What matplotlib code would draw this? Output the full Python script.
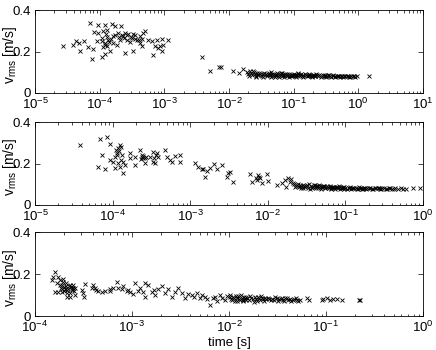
import matplotlib

matplotlib.use("Agg")
import matplotlib.pyplot as plt
from matplotlib.ticker import LogLocator, NullFormatter

# --- panel 1 ---------------------------------------------------------------
t1 = [
    2.7e-5, 7.1e-5, 9.5e-5, 1.21e-4, 1.53e-4, 1.73e-4, 2.14e-4, 8.3e-5, 9.5e-5, 1.14e-4,
    1.28e-4, 4.3e-5, 4.8e-5, 5.8e-5, 5.0e-5, 6.6e-5, 8.0e-5, 7.5e-5, 1.07e-4, 1.21e-4,
    1.45e-4, 9.0e-5, 1.07e-4, 1.21e-4, 1.36e-4, 1.14e-4, 1.28e-4, 1.63e-4, 1.73e-4, 1.94e-4,
    2.19e-4, 2.47e-4, 2.77e-4, 2.06e-4, 2.62e-4, 1.83e-4, 2.47e-4, 3.31e-4, 3.13e-4, 3.52e-4,
    4.2e-4, 4.73e-4, 5.0e-4, 4.2e-4, 4.47e-4, 5.65e-4, 6.4e-4, 7.6e-4, 9.1e-4, 1.15e-3,
    7.2e-4, 8.1e-4, 9.1e-4, 9.6e-4, 6.7e-4, 3.74e-4, 8.6e-4, 2.3e-4, 2.6e-4, 3.0e-4,
    1.3e-4, 1.4e-4, 1.5e-4, 3.5e-4, 4.0e-4, 2.9e-4, 1.2e-4, 2.0e-4, 4.5e-4, 1.1e-4,
    1.25e-4, 2.4e-4, 3.3e-4, 1.6e-4, 3.8e-5,
    3.8e-3, 5.1e-3, 7.0e-3, 7.6e-3, 0.0115, 0.0143, 0.0165,
    0.019, 0.020, 0.021, 0.022, 0.023, 0.024, 0.025, 0.026, 0.027, 0.028,
    0.030, 0.032, 0.033, 0.035, 0.038, 0.040, 0.043, 0.045, 0.047, 0.049,
    0.052, 0.055, 0.058, 0.061, 0.064, 0.067, 0.070, 0.074, 0.078, 0.082,
    0.086, 0.090, 0.095, 0.100, 0.105, 0.11, 0.115, 0.12, 0.13, 0.135,
    0.14, 0.15, 0.16, 0.17, 0.18, 0.19, 0.20, 0.21, 0.22, 0.24,
    0.25, 0.27, 0.29, 0.31, 0.33, 0.35, 0.38, 0.41, 0.44, 0.48,
    0.52, 0.56, 0.61, 0.66, 0.72, 0.78, 0.86, 0.95, 1.45,
    0.0205, 0.0235, 0.0265, 0.029, 0.031, 0.034, 0.037, 0.039, 0.042, 0.044,
    0.046, 0.048, 0.051, 0.054, 0.057, 0.060, 0.063, 0.066, 0.069, 0.072,
    0.076, 0.080, 0.084, 0.088, 0.093, 0.098, 0.103, 0.108, 0.113, 0.118,
    0.125, 0.14, 0.155, 0.165, 0.175, 0.185, 0.195, 0.205, 0.215, 0.23,
    0.26, 0.28, 0.30, 0.32, 0.34, 0.37, 0.40, 0.43, 0.46, 0.50,
    0.54, 0.58, 0.63, 0.69, 0.75, 0.82, 0.90,
]
v1 = [
    0.225, 0.337, 0.329, 0.326, 0.333, 0.321, 0.321, 0.294, 0.289, 0.297,
    0.305, 0.252, 0.241, 0.252, 0.201, 0.220, 0.212, 0.165, 0.172, 0.188,
    0.201, 0.249, 0.265, 0.241, 0.257, 0.220, 0.225, 0.241, 0.281, 0.289,
    0.281, 0.289, 0.284, 0.257, 0.257, 0.233, 0.193, 0.201, 0.265, 0.281,
    0.273, 0.289, 0.297, 0.241, 0.225, 0.257, 0.249, 0.257, 0.262, 0.257,
    0.225, 0.217, 0.201, 0.233, 0.185, 0.257, 0.226, 0.275, 0.280, 0.270,
    0.270, 0.245, 0.260, 0.260, 0.255, 0.245, 0.230, 0.270, 0.262, 0.250,
    0.285, 0.265, 0.285, 0.275, 0.230,
    0.175, 0.107, 0.124, 0.124, 0.107, 0.098, 0.116,
    0.100, 0.090, 0.108, 0.095, 0.085, 0.100, 0.092, 0.083, 0.097, 0.088,
    0.093, 0.080, 0.090, 0.098, 0.085, 0.093, 0.088, 0.100, 0.082, 0.092,
    0.086, 0.095, 0.083, 0.090, 0.087, 0.094, 0.085, 0.091, 0.082, 0.089,
    0.093, 0.084, 0.088, 0.092, 0.083, 0.088, 0.094, 0.085, 0.090, 0.082,
    0.088, 0.092, 0.084, 0.089, 0.086, 0.081, 0.088, 0.084, 0.090, 0.082,
    0.087, 0.084, 0.080, 0.086, 0.082, 0.085, 0.079, 0.084, 0.081, 0.083,
    0.079, 0.082, 0.080, 0.083, 0.079, 0.081, 0.080, 0.082, 0.080,
    0.082, 0.105, 0.078, 0.098, 0.086, 0.076, 0.092, 0.081, 0.097, 0.078,
    0.090, 0.085, 0.077, 0.089, 0.092, 0.079, 0.094, 0.081, 0.088, 0.078,
    0.086, 0.092, 0.079, 0.087, 0.081, 0.086, 0.089, 0.079, 0.085, 0.090,
    0.081, 0.078, 0.087, 0.080, 0.091, 0.084, 0.079, 0.086, 0.081, 0.085,
    0.079, 0.087, 0.083, 0.078, 0.086, 0.082, 0.085, 0.077, 0.083, 0.080,
    0.084, 0.078, 0.081, 0.083, 0.078, 0.080, 0.079,
]

# --- panel 2 ---------------------------------------------------------------
t2 = [
    3.8e-5, 6.9e-5, 8.4e-5, 9.3e-5, 1.25e-4, 1.19e-4, 7.2e-5, 1.13e-4, 1.31e-4, 1.07e-4,
    9.3e-5, 1.02e-4, 1.19e-4, 1.37e-4, 1.45e-4, 1.25e-4, 6.5e-5, 8.0e-5, 1.07e-4, 1.37e-4,
    1.68e-4, 1.94e-4, 1.94e-4, 1.68e-4, 2.25e-4, 2.37e-4, 2.49e-4, 2.62e-4, 2.4e-4, 2.5e-4,
    2.6e-4, 2.3e-4, 2.7e-4, 3.03e-4, 3.35e-4, 3.7e-4, 3.35e-4, 3.52e-4, 3.88e-4, 4.73e-4,
    4.98e-4, 5.5e-4, 5.8e-4, 6.4e-4, 7.4e-4, 7.4e-4, 1.15e-4, 1.2e-4, 1.28e-4, 1.1e-4,
    1.3e-4, 3.6e-4, 3.4e-4,
    1.15e-3, 1.27e-3, 1.41e-3, 1.48e-3, 1.63e-3, 2.0e-3, 1.8e-3, 2.55e-3, 1.55e-3, 2.2e-3,
    3.1e-3, 3.26e-3, 2.95e-3, 3.6e-3, 5.9e-3, 7.5e-3, 7.9e-3, 6.2e-3, 7.2e-3, 8.3e-3,
    9.7e-3, 0.0102, 0.0077, 0.0070, 0.013, 0.0151, 0.0167, 0.0184, 0.0193, 0.0174,
    0.020, 0.021,
    0.022, 0.023, 0.024, 0.025, 0.026, 0.027, 0.028, 0.029, 0.030, 0.032,
    0.033, 0.034, 0.036, 0.037, 0.039, 0.041, 0.043, 0.045, 0.047, 0.049,
    0.051, 0.054, 0.057, 0.060, 0.063, 0.066, 0.069, 0.072, 0.076, 0.080,
    0.084, 0.088, 0.092, 0.097, 0.10, 0.11, 0.115, 0.12, 0.13, 0.14,
    0.15, 0.16, 0.17, 0.18, 0.19, 0.20, 0.22, 0.24, 0.26, 0.28,
    0.30, 0.33, 0.36, 0.40, 0.44, 0.56, 0.61, 0.75, 0.92,
    0.0225, 0.0245, 0.0265, 0.0285, 0.031, 0.0345, 0.038, 0.040, 0.042, 0.044,
    0.046, 0.048, 0.050, 0.0525, 0.055, 0.0585, 0.0615, 0.0645, 0.0675, 0.0705,
    0.074, 0.078, 0.082, 0.086, 0.090, 0.095, 0.105, 0.112, 0.118, 0.125,
    0.135, 0.145, 0.155, 0.165, 0.175, 0.185, 0.21, 0.23, 0.25, 0.27,
    0.29, 0.31, 0.345, 0.38, 0.42, 0.48, 0.52,
]
v2 = [
    0.290, 0.317, 0.329, 0.294, 0.289, 0.273, 0.241, 0.249, 0.241, 0.233,
    0.217, 0.209, 0.201, 0.209, 0.193, 0.185, 0.185, 0.172, 0.177, 0.156,
    0.249, 0.233, 0.193, 0.225, 0.265, 0.241, 0.225, 0.201, 0.232, 0.236,
    0.228, 0.222, 0.232, 0.233, 0.257, 0.249, 0.209, 0.201, 0.233, 0.265,
    0.233, 0.217, 0.209, 0.236, 0.241, 0.209, 0.240, 0.260, 0.280, 0.265,
    0.215, 0.240, 0.225,
    0.201, 0.185, 0.172, 0.172, 0.165, 0.198, 0.177, 0.193, 0.136, 0.173,
    0.153, 0.160, 0.136, 0.112, 0.149, 0.145, 0.129, 0.112, 0.120, 0.104,
    0.149, 0.117, 0.135, 0.128, 0.096, 0.104, 0.120, 0.129, 0.112, 0.088,
    0.125, 0.105,
    0.100, 0.090, 0.095, 0.085, 0.098, 0.090, 0.080, 0.093, 0.087, 0.095,
    0.083, 0.100, 0.090, 0.082, 0.095, 0.087, 0.092, 0.080, 0.090, 0.085,
    0.093, 0.082, 0.088, 0.085, 0.091, 0.080, 0.087, 0.083, 0.089, 0.080,
    0.086, 0.082, 0.088, 0.079, 0.084, 0.081, 0.087, 0.080, 0.084, 0.079,
    0.085, 0.081, 0.078, 0.084, 0.080, 0.082, 0.078, 0.083, 0.080, 0.077,
    0.082, 0.079, 0.081, 0.078, 0.080, 0.079, 0.079, 0.080, 0.080,
    0.088, 0.102, 0.082, 0.097, 0.092, 0.078, 0.088, 0.098, 0.080, 0.090,
    0.094, 0.078, 0.087, 0.090, 0.080, 0.093, 0.084, 0.077, 0.089, 0.086,
    0.079, 0.085, 0.090, 0.077, 0.083, 0.086, 0.078, 0.084, 0.076, 0.083,
    0.081, 0.077, 0.084, 0.079, 0.082, 0.076, 0.081, 0.078, 0.084, 0.080,
    0.078, 0.081, 0.077, 0.080, 0.079, 0.078, 0.080,
]

# --- panel 3 ---------------------------------------------------------------
t3 = [
    1.61e-4, 1.55e-4, 1.74e-4, 1.81e-4, 1.96e-4, 1.67e-4, 1.49e-4, 1.9e-4, 2.0e-4, 2.1e-4,
    2.2e-4, 2.3e-4, 2.4e-4, 2.0e-4, 2.15e-4, 2.35e-4, 1.85e-4, 2.5e-4, 1.61e-4, 1.74e-4,
    1.88e-4, 2.12e-4, 2.3e-4, 2.58e-4, 2.39e-4, 2.48e-4, 3.03e-4, 3.28e-4, 3.22e-4, 3.15e-4,
    3.99e-4, 3.84e-4, 4.15e-4, 4.5e-4, 4.87e-4, 5.27e-4, 5.93e-4, 6.42e-4, 6.95e-4, 7.2e-4,
    8.1e-4, 8.8e-4, 9.5e-4, 1.03e-3, 1.07e-3, 1.21e-3, 1.36e-3, 1.47e-3, 1.36e-3, 1.6e-3,
    1.73e-3, 1.87e-3, 2.02e-3, 2.19e-3, 2.37e-3, 2.57e-3, 3.0e-3, 3.25e-3, 3.52e-3, 4.12e-3,
    4.65e-3, 5.0e-3, 5.66e-3, 6.4e-3, 7.2e-3, 8.1e-3, 9.1e-3, 0.0102,
    4.3e-4, 6.0e-4, 7.8e-4, 9.0e-4, 1.15e-3, 1.3e-3, 1.7e-3, 2.8e-3, 3.8e-3, 4.4e-3,
    5.3e-3, 6.0e-3, 6.8e-3, 7.6e-3, 8.5e-3, 9.5e-3,
    0.0105, 0.011, 0.0115, 0.012, 0.0125, 0.013, 0.0135, 0.014, 0.0145, 0.015,
    0.016, 0.017, 0.018, 0.019, 0.020, 0.021, 0.022, 0.023, 0.024, 0.025,
    0.027, 0.028, 0.030, 0.032, 0.034, 0.036, 0.038, 0.041, 0.044, 0.047,
    0.050, 0.054, 0.063, 0.066, 0.090, 0.093, 0.102, 0.11, 0.119, 0.130,
    0.145, 0.221, 0.224,
    0.0102, 0.0108, 0.0112, 0.0118, 0.0122, 0.0128, 0.0132, 0.0138, 0.0142, 0.0148,
    0.0155, 0.0165, 0.0175, 0.0185, 0.0195, 0.0205, 0.0215, 0.0225, 0.0235, 0.026,
    0.029, 0.031, 0.033, 0.035, 0.037, 0.040, 0.043, 0.046, 0.049, 0.052,
    2.05e-4, 2.25e-4, 1.95e-4, 2.45e-4, 2.15e-4, 1.8e-4, 2.3e-4, 2.6e-4, 2.1e-4, 1.9e-4,
]
v3 = [
    0.208, 0.187, 0.187, 0.171, 0.176, 0.156, 0.171, 0.150, 0.140, 0.145,
    0.130, 0.150, 0.125, 0.118, 0.110, 0.138, 0.135, 0.118, 0.113, 0.113,
    0.113, 0.092, 0.089, 0.100, 0.132, 0.148, 0.124, 0.151, 0.092, 0.108,
    0.148, 0.132, 0.132, 0.119, 0.113, 0.119, 0.129, 0.135, 0.163, 0.132,
    0.144, 0.119, 0.113, 0.103, 0.156, 0.132, 0.156, 0.148, 0.092, 0.116,
    0.100, 0.129, 0.144, 0.108, 0.129, 0.092, 0.135, 0.108, 0.084, 0.100,
    0.108, 0.084, 0.092, 0.052, 0.092, 0.100, 0.076, 0.092,
    0.125, 0.120, 0.128, 0.125, 0.120, 0.115, 0.125, 0.115, 0.105, 0.090,
    0.098, 0.080, 0.088, 0.072, 0.085, 0.095,
    0.080, 0.090, 0.072, 0.085, 0.095, 0.078, 0.088, 0.070, 0.082, 0.092,
    0.076, 0.086, 0.068, 0.080, 0.090, 0.075, 0.084, 0.070, 0.080, 0.088,
    0.074, 0.082, 0.090, 0.072, 0.080, 0.076, 0.084, 0.078, 0.072, 0.080,
    0.076, 0.078, 0.084, 0.078, 0.076, 0.080, 0.084, 0.078, 0.081, 0.079,
    0.076, 0.078, 0.076,
    0.100, 0.074, 0.088, 0.094, 0.070, 0.083, 0.098, 0.078, 0.092, 0.074,
    0.088, 0.094, 0.080, 0.090, 0.072, 0.085, 0.094, 0.080, 0.088, 0.082,
    0.076, 0.086, 0.080, 0.088, 0.072, 0.088, 0.083, 0.076, 0.084, 0.070,
    0.128, 0.142, 0.160, 0.135, 0.125, 0.148, 0.110, 0.132, 0.155, 0.128,
]

PANELS = [
    (t1, v1, (1e-5, 1e1), [0.0803, 0.7343, 0.8899, 0.2371]),
    (t2, v2, (1e-5, 1e0), [0.0803, 0.4143, 0.8899, 0.2371]),
    (t3, v3, (1e-4, 1e0), [0.0803, 0.0971, 0.8899, 0.2400]),
]

plt.rcParams["font.family"] = ["Liberation Sans", "DejaVu Sans"]
plt.rcParams["mathtext.fontset"] = "custom"
plt.rcParams["mathtext.rm"] = "Liberation Sans"
plt.rcParams["mathtext.it"] = "Liberation Sans:italic"
plt.rcParams["font.size"] = 9.5


def style_axes(ax, xlim):
    ax.set_xscale("log")
    ax.set_xlim(*xlim)
    ax.set_ylim(0, 0.4)
    ax.set_yticks([0, 0.2, 0.4])
    ax.set_yticklabels(["0", "0.2", "0.4"])
    ax.xaxis.set_major_locator(LogLocator(base=10, numticks=12))
    ax.xaxis.set_minor_locator(LogLocator(base=10, subs=range(2, 10), numticks=12))
    ax.xaxis.set_minor_formatter(NullFormatter())
    ax.tick_params(which="both", direction="in", top=True, right=True, width=0.5)
    ax.tick_params(which="major", length=3.5, pad=3)
    ax.tick_params(which="minor", length=1.8)
    for spine in ax.spines.values():
        spine.set_linewidth(0.6)
    # MATLAB puts the label right against the tick labels
    ax.set_ylabel(r"v$_{\mathrm{rms}}$ [m/s]", fontsize=10)
    ax.yaxis.set_label_coords(-0.040, 0.46)


fig = plt.figure(figsize=(4.36, 3.5), dpi=100)
for t, v, xlim, rect in PANELS:
    ax = fig.add_axes(rect)
    ax.plot(t, v, "x", color="k", markersize=3.5, markeredgewidth=0.6)
    style_axes(ax, xlim)

ax.set_xlabel("time [s]", labelpad=1)
fig.savefig("out.png", dpi=100)
